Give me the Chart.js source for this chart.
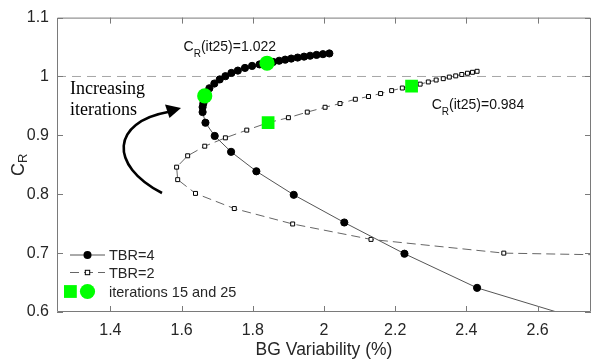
<!DOCTYPE html>
<html><head><meta charset="utf-8">
<script src="https://cdn.jsdelivr.net/npm/chart.js@4.4.0/dist/chart.umd.min.js"></script>
<style>html,body{margin:0;padding:0;background:#fff}canvas{display:block}</style>
</head><body>
<canvas id="c" width="600" height="359"></canvas>
<script>
// ---- data ----
const xTicks = [1.4, 1.6, 1.8, 2.0, 2.2, 2.4, 2.6];
const yTicks = [0.6, 0.7, 0.8, 0.9, 1.0, 1.1];
const xLimits = [1.25, 2.75];
const yLimits = [0.6, 1.1];

const tbr4X = [2.85, 2.43, 2.226, 2.057, 1.915, 1.81, 1.739, 1.693, 1.667, 1.659,
  1.659, 1.661, 1.662, 1.663, 1.665, 1.678, 1.692, 1.707, 1.723, 1.740,
  1.758, 1.778, 1.798, 1.819, 1.84, 1.857, 1.874, 1.891, 1.908, 1.926,
  1.944, 1.961, 1.979, 1.997, 2.015];
const tbr4Y = [0.564, 0.641, 0.699, 0.752, 0.799, 0.839, 0.872, 0.899, 0.9215, 0.9395,
  0.948, 0.954, 0.959, 0.963, 0.967, 0.980, 0.988, 0.995, 1.0005, 1.006,
  1.010, 1.0145, 1.018, 1.0205, 1.0225, 1.0247, 1.0267, 1.0286, 1.0304, 1.0321,
  1.0337, 1.0352, 1.0366, 1.0379, 1.0391];

const tbr2X = [3.2, 2.505, 2.132, 1.912, 1.748, 1.639, 1.589, 1.586, 1.617, 1.665,
  1.723, 1.783, 1.843, 1.9, 1.953, 2.003, 2.045, 2.088, 2.125, 2.159,
  2.19, 2.22, 2.246, 2.27, 2.293, 2.315, 2.335, 2.352, 2.37, 2.387,
  2.403, 2.417, 2.43];
const tbr2Y = [0.6925, 0.70, 0.7233, 0.7495, 0.7757, 0.8014, 0.8248, 0.846, 0.8653, 0.8816,
  0.8958, 0.9089, 0.9215, 0.93, 0.9395, 0.9477, 0.954, 0.9613, 0.966, 0.971,
  0.976, 0.9804, 0.9837, 0.987, 0.9907, 0.994, 0.9963, 0.999, 1.001, 1.0034,
  1.0055, 1.0071, 1.0088];

const highlightIdx4 = [14, 24];   // iterations 15 and 25
const highlightIdx2 = [12, 22];
const refLineX = [1.25, 2.75];
const refLineY = [1, 1];
const legendLabels = ['TBR=4', 'TBR=2', 'iterations 15 and 25'];
const annotations = [
  {x: 1.6055, y: 1.043, value: '1.022'},
  {x: 2.3026, y: 0.9449, value: '0.984'}
];

// ---- helpers ----
const pts = (xs, ys) => xs.map((x, i) => ({x, y: ys[i]}));
const pick = (xs, ys, idx) => idx.map(i => ({x: xs[i], y: ys[i]}));
const fmt = v => String(Number(v.toFixed(3)));
const SANS = '"Liberation Sans", Arial, sans-serif';
const SERIF = '"Liberation Serif", "Times New Roman", serif';
const GREEN = '#00ff00';

const decor = {
  id: 'decor',
  afterDatasetsDraw(chart) {
    const {ctx, chartArea: a, scales: {x, y}} = chart;
    ctx.save();
    // box
    ctx.strokeStyle = '#7a7a7a';
    ctx.lineWidth = 1;
    ctx.beginPath();
    ctx.rect(a.left + 0.5, a.top + 0.5, a.right - a.left - 1, a.bottom - a.top - 1);
    ctx.stroke();
    // inward ticks on all sides
    const tl = 6;
    ctx.beginPath();
    xTicks.forEach(v => {
      const px = Math.round(x.getPixelForValue(v)) + 0.5;
      ctx.moveTo(px, a.bottom); ctx.lineTo(px, a.bottom - tl);
      ctx.moveTo(px, a.top); ctx.lineTo(px, a.top + tl);
    });
    yTicks.forEach(v => {
      const py = Math.round(y.getPixelForValue(v)) + 0.5;
      ctx.moveTo(a.left, py); ctx.lineTo(a.left + tl, py);
      ctx.moveTo(a.right, py); ctx.lineTo(a.right - tl, py);
    });
    ctx.stroke();

    // axis titles
    ctx.fillStyle = '#262626';
    ctx.font = '17.5px ' + SANS;
    ctx.textAlign = 'center';
    ctx.textBaseline = 'alphabetic';
    ctx.fillText('BG Variability (%)', (a.left + a.right) / 2, 355);
    // y title C_R rotated
    ctx.save();
    ctx.translate(24, (a.top + a.bottom) / 2);
    ctx.rotate(-Math.PI / 2);
    ctx.font = '18px ' + SANS;
    const wC = ctx.measureText('C').width;
    ctx.font = '13px ' + SANS;
    const wR = ctx.measureText('R').width;
    const tot = wC + wR;
    ctx.textAlign = 'left';
    ctx.font = '18px ' + SANS;
    ctx.fillText('C', -tot / 2, 0);
    ctx.font = '13px ' + SANS;
    ctx.fillText('R', -tot / 2 + wC, 3);
    ctx.restore();

    // annotations C_R(it25)=...
    ctx.fillStyle = '#111';
    ctx.textAlign = 'left';
    annotations.forEach(an => {
      const px = x.getPixelForValue(an.x), py = y.getPixelForValue(an.y);
      ctx.font = '14px ' + SANS;
      ctx.fillText('C', px, py);
      const w1 = ctx.measureText('C').width;
      ctx.font = '10px ' + SANS;
      ctx.fillText('R', px + w1, py + 6);
      const w2 = ctx.measureText('R').width;
      ctx.font = '14px ' + SANS;
      ctx.fillText('(it25)=' + an.value, px + w1 + w2, py);
    });

    // "Increasing iterations" + curved arrow
    ctx.fillStyle = '#000';
    ctx.font = '18px ' + SERIF;
    ctx.fillText('Increasing', 70, 94);
    ctx.fillText('iterations', 70, 115);
    ctx.strokeStyle = '#000';
    ctx.lineWidth = 2.6;
    ctx.beginPath();
    ctx.moveTo(162, 193);
    ctx.bezierCurveTo(108, 165, 112, 122, 168, 112);
    ctx.stroke();
    ctx.beginPath();
    ctx.moveTo(181, 108);
    ctx.lineTo(165, 104.5);
    ctx.lineTo(169.5, 118);
    ctx.closePath();
    ctx.fill();

    // legend
    const lx0 = 70, lx1 = 105, lmx = 87.5, tx = 109;
    const rows = [255, 272.5, 291.5];
    ctx.lineWidth = 1;
    ctx.strokeStyle = '#555';
    ctx.beginPath(); ctx.moveTo(lx0, rows[0]); ctx.lineTo(lx1, rows[0]); ctx.stroke();
    ctx.fillStyle = '#000';
    ctx.beginPath(); ctx.arc(lmx, rows[0], 4, 0, Math.PI * 2); ctx.fill();
    ctx.strokeStyle = '#666';
    ctx.setLineDash([9, 5]);
    ctx.beginPath(); ctx.moveTo(lx0, rows[1]); ctx.lineTo(lx1, rows[1]); ctx.stroke();
    ctx.setLineDash([]);
    ctx.fillStyle = '#fff'; ctx.strokeStyle = '#000';
    ctx.fillRect(lmx - 2.2, rows[1] - 2.2, 4.4, 4.4);
    ctx.strokeRect(lmx - 2.2, rows[1] - 2.2, 4.4, 4.4);
    ctx.fillStyle = GREEN;
    ctx.fillRect(64, rows[2] - 6.4, 12.8, 12.8);
    ctx.beginPath(); ctx.arc(lmx, rows[2], 7.6, 0, Math.PI * 2); ctx.fill();
    ctx.fillStyle = '#262626';
    ctx.font = '14.5px ' + SANS;
    ctx.textBaseline = 'middle';
    legendLabels.forEach((t, i) => ctx.fillText(t, tx, rows[i] + 1));
    ctx.restore();
  }
};

new Chart(document.getElementById('c'), {
  type: 'scatter',
  data: {
    datasets: [
      {label: 'hi4', data: pick(tbr4X, tbr4Y, highlightIdx4), showLine: false,
        pointStyle: 'circle', pointRadius: 7.6, pointBackgroundColor: GREEN, pointBorderWidth: 0},
      {label: 'hi2', data: pick(tbr2X, tbr2Y, highlightIdx2), showLine: false,
        pointStyle: 'rect', pointRadius: 9, pointBackgroundColor: GREEN, pointBorderWidth: 0},
      {label: legendLabels[0], data: pts(tbr4X, tbr4Y), showLine: true, borderColor: '#555',
        borderWidth: 1, tension: 0, pointStyle: 'circle', pointRadius: 3.6,
        pointBackgroundColor: '#000', pointBorderColor: '#000', pointBorderWidth: 1},
      {label: legendLabels[1], data: pts(tbr2X, tbr2Y), showLine: true, borderColor: '#666',
        borderWidth: 1, borderDash: [9, 5], tension: 0, pointStyle: 'rect', pointRadius: 2.8,
        pointBackgroundColor: '#fff', pointBorderColor: '#000', pointBorderWidth: 1},
      {label: 'ref', data: pts(refLineX, refLineY), showLine: true, borderColor: '#a6a6a6',
        borderWidth: 1, borderDash: [9, 6], pointRadius: 0}
    ]
  },
  options: {
    responsive: false,
    animation: false,
    events: [],
    layout: {padding: {top: 6, right: 1, left: 0, bottom: 0}},
    plugins: {legend: {display: false}, tooltip: {enabled: false}},
    scales: {
      x: {
        type: 'linear', min: xLimits[0], max: xLimits[1],
        grid: {display: false, drawTicks: false, tickLength: 0},
        border: {display: false},
        afterBuildTicks: s => { s.ticks = xTicks.map(v => ({value: v})); },
        afterFit: s => { s.height = 47; },
        ticks: {font: {size: 16, family: SANS}, color: '#262626', padding: 9,
          maxRotation: 0, autoSkip: false, callback: v => fmt(v)}
      },
      y: {
        type: 'linear', min: yLimits[0], max: yLimits[1],
        grid: {display: false, drawTicks: false, tickLength: 0},
        border: {display: false},
        afterBuildTicks: s => { s.ticks = yTicks.map(v => ({value: v})); },
        afterFit: s => { s.width = 57; },
        ticks: {font: {size: 16, family: SANS}, color: '#262626', padding: 8,
          autoSkip: false, callback: v => fmt(v)}
      }
    }
  },
  plugins: [decor]
});
</script>
</body></html>
